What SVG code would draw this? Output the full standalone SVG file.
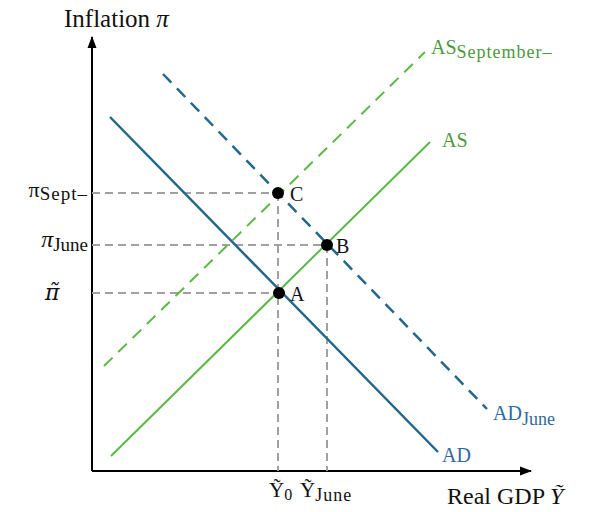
<svg xmlns="http://www.w3.org/2000/svg" width="593" height="512" viewBox="0 0 593 512">
<style>
.t{font-family:"Liberation Serif",serif;fill:#111}
.g{fill:#4a9a3a;font-family:"Liberation Serif",serif}
.b{fill:#2e6aa0;font-family:"Liberation Serif",serif}
.sub{letter-spacing:1px}
.guide{stroke:#a0a0a0;stroke-width:2;stroke-dasharray:8 5;fill:none}
.as{stroke:#5ab946;stroke-width:2;fill:none}
.ad{stroke:#23678a;stroke-width:2.5;fill:none}
</style>
<defs>
<marker id="arr" markerWidth="12" markerHeight="10" refX="11" refY="5" orient="auto" markerUnits="userSpaceOnUse">
<path d="M0,0.5 L12,5 L0,9.5 z" fill="#000"/>
</marker>
</defs>
<g id="axes">
<line x1="92" y1="471" x2="92" y2="37" stroke="#000" stroke-width="2" marker-end="url(#arr)"/>
<line x1="92" y1="471" x2="531" y2="471" stroke="#000" stroke-width="2" marker-end="url(#arr)"/>
<text class="t" x="64" y="27" font-size="25">Inflation <tspan font-style="italic">π</tspan></text>
<text class="t" x="447" y="504" font-size="24">Real GDP <tspan font-style="italic">Ỹ</tspan></text>
</g>
<g id="connectors">
<line class="guide" x1="92" y1="193" x2="278" y2="193"/>
<line class="guide" x1="92" y1="245" x2="327" y2="245"/>
<line class="guide" x1="92" y1="293" x2="279" y2="293"/>
<line class="guide" x1="278" y1="193" x2="278" y2="471"/>
<line class="guide" x1="327" y1="245" x2="327" y2="471"/>
</g>
<g id="AS">
<line class="as" x1="111" y1="456" x2="430" y2="142"/>
<text class="g" x="442" y="147" font-size="20">AS</text>
</g>
<g id="AS_Sept">
<line class="as" x1="104" y1="366" x2="425" y2="52" stroke-width="2.5" stroke-dasharray="12 8"/>
<text class="g" x="431" y="54" font-size="20">AS<tspan class="sub" font-size="18" dy="4">September–</tspan></text>
</g>
<g id="AD">
<line class="ad" x1="110" y1="117" x2="438" y2="452"/>
<text class="b" x="442" y="462" font-size="20">AD</text>
</g>
<g id="AD_June">
<line class="ad" x1="163" y1="74" x2="487" y2="409" stroke-dasharray="12 8"/>
<text class="b" x="493" y="420" font-size="20">AD<tspan font-size="18" dy="5">June</tspan></text>
</g>
<g id="C">
<circle cx="278" cy="193" r="6" fill="#000"/>
<text class="t" x="290" y="201" font-size="20">C</text>
</g>
<g id="B">
<circle cx="327" cy="245" r="6" fill="#000"/>
<text class="t" x="336" y="253" font-size="20">B</text>
</g>
<g id="A">
<circle cx="279" cy="293" r="6" fill="#000"/>
<text class="t" x="290" y="301" font-size="20">A</text>
</g>
<g id="ylabels">
<text class="t" x="88" y="197" font-size="22" text-anchor="end">π<tspan class="sub" font-size="19" dy="3">Sept–</tspan></text>
<text class="t" x="88" y="247" font-size="24" text-anchor="end"><tspan font-style="italic">π</tspan><tspan font-size="19" dy="4">June</tspan></text>
<text x="45" y="300" font-size="22" font-style="italic" font-family="'DejaVu Serif',serif" fill="#111">π̃</text>
</g>
<g id="xlabels">
<text class="t" x="269" y="497" font-size="21">Ỹ<tspan font-size="16" dy="3">0</tspan></text>
<text class="t" x="300" y="497" font-size="21">Ỹ<tspan class="sub" font-size="18" dy="4">June</tspan></text>
</g>
</svg>
